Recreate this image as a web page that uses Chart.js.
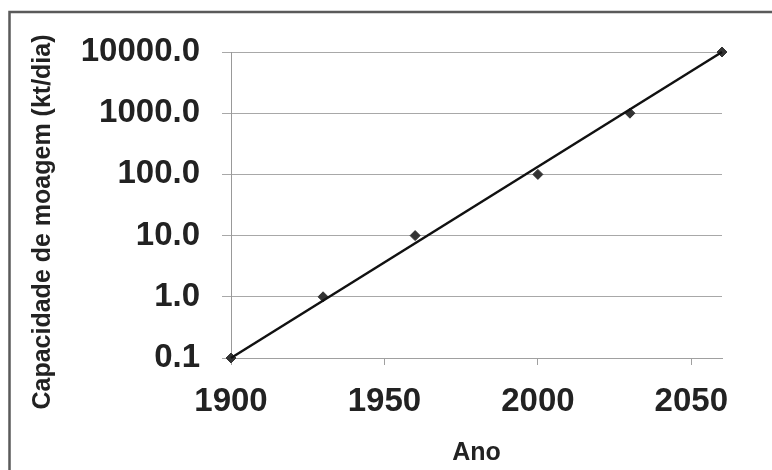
<!DOCTYPE html>
<html><head><meta charset="utf-8">
<script src="https://cdn.jsdelivr.net/npm/chart.js@4.4.1/dist/chart.umd.min.js"></script>
<style>html,body{margin:0;padding:0;background:#fff;overflow:hidden}
canvas{display:block}
</style></head><body>
<canvas id="c" width="772" height="470"></canvas>
<script>
const years = [1900, 1930, 1960, 2000, 2030, 2060];
const capacity = [0.1, 1, 10, 100, 1000, 10000];
const trendYears = [1900, 2060];
const trendValues = [0.1, 10000];
const xTicks = [1900, 1950, 2000, 2050];
const yTicks = [0.1, 1, 10, 100, 1000, 10000];
const xTitle = 'Ano';
const yTitle = 'Capacidade de moagem (kt/dia)';

const FONT = '"Liberation Sans", Arial, sans-serif';

const framePlugin = {
  id: 'frame',
  beforeDraw(chart) {
    const ctx = chart.ctx;
    ctx.save();
    ctx.fillStyle = '#fff';
    ctx.fillRect(0, 0, chart.width, chart.height);
    ctx.strokeStyle = '#5a5a5a';
    ctx.lineWidth = 2.5;
    ctx.strokeRect(9.5, 12, 900, 600);
    ctx.restore();
  }
};
const yTitlePlugin = {
  id: 'ytitle',
  afterDraw(chart) {
    const ctx = chart.ctx;
    ctx.save();
    ctx.translate(43, 222);
    ctx.rotate(-Math.PI / 2);
    ctx.font = 'bold 25px ' + FONT;
    ctx.fillStyle = '#222';
    ctx.textAlign = 'center';
    ctx.textBaseline = 'middle';
    ctx.fillText(yTitle, 0, 0);
    ctx.restore();
  }
};

new Chart(document.getElementById('c'), {
  type: 'scatter',
  data: {
    datasets: [
      {
        label: 'Tendência',
        data: trendYears.map((x, i) => ({x, y: trendValues[i]})),
        showLine: true,
        borderColor: '#111',
        borderWidth: 2.5,
        pointRadius: 0,
        fill: false,
        clip: false
      },
      {
        label: 'Capacidade',
        data: years.map((x, i) => ({x, y: capacity[i]})),
        showLine: false,
        pointStyle: 'rectRot',
        pointRadius: 5,
        backgroundColor: '#333',
        borderColor: '#333',
        borderWidth: 1,
        clip: false
      }
    ]
  },
  options: {
    responsive: false,
    animation: false,
    devicePixelRatio: 1,
    layout: {padding: {left: 0, top: 52, right: 50, bottom: 0}},
    plugins: {legend: {display: false}, tooltip: {enabled: false}},
    scales: {
      x: {
        type: 'linear',
        position: 'bottom',
        min: 1900,
        max: 2060,
        afterBuildTicks: s => { s.ticks = xTicks.map(v => ({value: v})); },
        afterFit: s => { s.height = 112; },
        grid: {drawOnChartArea: false, drawTicks: true, tickLength: 7, color: '#a0a0a0'},
        border: {display: true, color: '#a0a0a0'},
        ticks: {
          autoSkip: false, maxRotation: 0, padding: 17,
          color: '#222',
          font: {family: FONT, size: 33, weight: 'bold'},
          callback: v => String(v)
        },
        title: {
          display: true, text: xTitle, color: '#222', padding: {top: 0, bottom: 2},
          font: {family: FONT, size: 25, weight: 'bold'}
        }
      },
      y: {
        type: 'logarithmic',
        min: 0.1,
        max: 10000,
        afterBuildTicks: s => { s.ticks = yTicks.map(v => ({value: v})); },
        afterFit: s => { s.width = 231; },
        grid: {drawTicks: true, tickLength: 9, color: '#a8a8a8'},
        border: {display: true, color: '#999'},
        ticks: {
          padding: 22, color: '#222',
          font: {family: FONT, size: 33, weight: 'bold'},
          callback: v => Number(v).toFixed(1)
        }
      }
    }
  },
  plugins: [framePlugin, yTitlePlugin]
});
</script>
</body></html>
